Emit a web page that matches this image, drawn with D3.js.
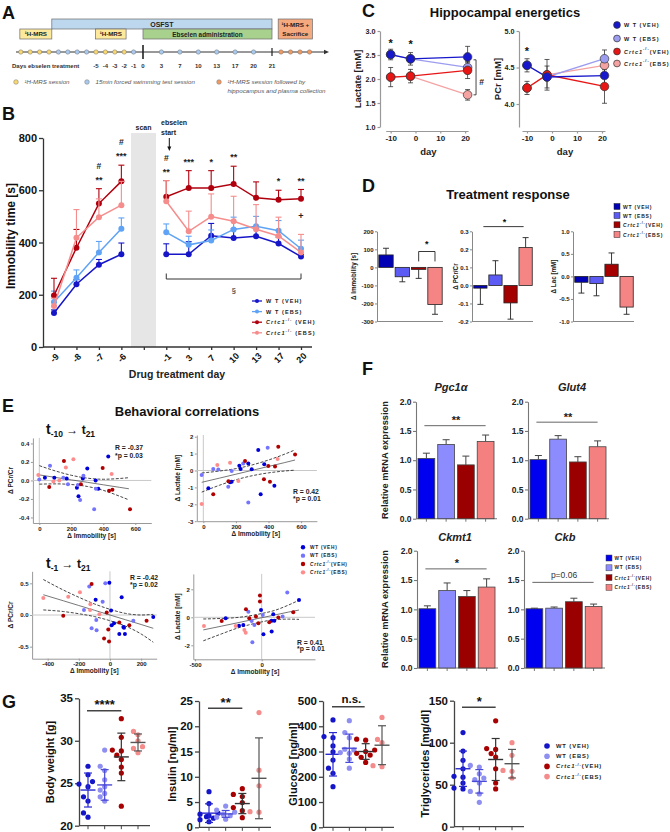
<!DOCTYPE html>
<html><head><meta charset="utf-8">
<script src="https://cdn.jsdelivr.net/npm/d3@7/dist/d3.min.js"></script>
<style>html,body{margin:0;padding:0;background:#fff}svg{display:block}</style>
</head><body>
<script>
const FONT = "'Liberation Sans', Arial, Helvetica, sans-serif";
// ===================== DATA =====================
const groupKeys = ["wtVeh","wtEbs","crVeh","crEbs"];
// A timeline schematic
const preDays  = [-13,-12,-11,-10,-9,-8,-7,-6,-5,-4,-3,-2,-1];
const preTypes = ["mrs","mrs","mrs","mrs","fst","fst","fst","fst","mrs","mrs","mrs","mrs","fst"];
const postDays = [0,3,7,10,13,17,20,21];
const postTypes= [null,"fst","fst","fst","fst","fst","fst",null];
const sacDots  = [1,2,3,4];
const preLabels = [-5,-4,-3,-2,-1];
// B immobility time
const bDays = ["-9","-8","-7","-6","","-1","3","7","10","13","17","20"];
const bWtVeh    = [130,240,315,355,null,355,355,426,417,424,396,346];
const bWtVehErr = [12,18,20,43,null,40,48,47,35,30,25,8];
const bWtEbs    = [172,265,362,453,null,439,391,408,450,462,445,376];
const bWtEbsErr = [42,30,42,41,null,32,33,40,47,38,39,33];
const bCrVeh    = [197,380,549,634,null,575,609,609,624,571,564,567];
const bCrVehErr = [66,70,57,62,null,62,66,66,68,61,36,36];
const bCrEbs    = [157,418,497,543,null,558,443,499,481,451,425,362];
const bCrEbsErr = [30,108,70,91,null,79,77,87,96,94,72,69];
const bSigIdx   = [2,3,5,6,7,8,10,11];
const bSigStar  = ["**","***","**","***","*","**","*","**"];
const bSigHash  = ["#","#","#","","","","",""];
// C hippocampal energetics
const cDays = [-10,-2,21];
const cLacWtVeh=[2.51,2.42,2.46], cLacWtVehErr=[0.11,0.13,0.22];
const cLacWtEbs=[2.51,2.42,2.24], cLacWtEbsErr=[0.11,0.13,0.12];
const cLacCrVeh=[2.04,2.06,2.18], cLacCrVehErr=[0.20,0.14,0.17];
const cLacCrEbs=[2.04,2.06,1.67], cLacCrEbsErr=[0.20,0.14,0.11];
const cPcrWtVeh=[4.53,4.37,4.39], cPcrWtVehErr=[0.09,0.15,0.14];
const cPcrWtEbs=[4.53,4.37,4.62], cPcrWtEbsErr=[0.09,0.15,0.12];
const cPcrCrVeh=[4.22,4.40,4.24], cPcrCrVehErr=[0.09,0.21,0.23];
const cPcrCrEbs=[4.22,4.40,4.53], cPcrCrEbsErr=[0.09,0.21,0.10];
// D treatment response
const dImm=[69,-52,-11,-206], dImmErr=[37,28,50,54];
const dPcr=[-0.015,0.058,-0.097,0.21], dPcrErr=[0.09,0.079,0.09,0.055];
const dLac=[-0.13,-0.16,0.27,-0.68], dLacErr=[0.24,0.27,0.25,0.16];
// E behavioral correlations  [Δimmobility, Δmetabolite]
const e1 = [
 [[431,0.26],[300,0.13],[35,0.03],[94,0.03],[171,0.02],[272,0.02],[352,0.0],[235,-0.08],[369,-0.09],[245,-0.17]],
 [[67,0.16],[0,0.01],[150,0.03],[276,0.05],[179,-0.04],[241,-0.05],[354,-0.09],[255,-0.21],[343,-0.31]],
 [[154,0.21],[396,0.135],[62,-0.07],[260,-0.04],[457,-0.10],[436,-0.11],[567,-0.31]],
 [[213,0.23],[166,0.14],[452,0.07],[-6,0.06],[88,-0.01],[125,0.0]]];
const e2 = [
 [[337,1.21],[31,-1.05],[164,-0.70],[174,-0.67],[221,0.28],[229,0.09],[276,0.42],[297,0.07],[352,-1.41],[374,0.37],[436,-0.90]],
 [[395,1.35],[-10,-0.27],[61,0.09],[92,0.06],[174,-0.03],[153,-0.96],[245,0.42],[276,-1.90]],
 [[460,1.41],[563,0.95],[61,-1.41],[154,-0.63],[256,0.56],[372,-0.52],[399,0.27],[409,-0.66],[440,0.23]],
 [[-10,-1.98],[86,0.33],[164,0.46],[215,-0.62],[456,0.68]]];
const e3 = [
 [[-4,0.51],[-92,0.24],[7,0.07],[11,-0.16],[26,-0.13],[60,-0.30],[75,0.28],[86,-0.19],[90,-0.20],[96,-0.30],[278,-0.03]],
 [[-30,0.50],[-167,0.08],[-133,0.45],[-118,-0.21],[-86,-0.24],[-88,-0.08],[-47,0.21],[150,-0.09]],
 [[-300,-0.01],[-118,0.49],[-21,0.04],[-38,-0.37],[-11,-0.23],[-6,-0.42],[60,-0.12],[124,-0.16],[235,-0.09]],
 [[-428,0.27],[-268,0.29],[-193,0.36],[-128,0.08],[-126,0.17],[-68,0.01]]];
const e4 = [
 [[-270,-0.07],[-170,-0.60],[-138,-0.55],[-5,0.52],[13,-1.21],[75,-0.24],[87,0.21],[75,-1.02],[95,-0.24],[280,1.24]],
 [[-100,0.40],[-75,-0.26],[-70,-1.79],[-55,-0.55],[8,0.17],[157,0.05],[192,1.78]],
 [[-300,-0.26],[-118,0.57],[-93,-0.07],[-43,0.05],[-25,-0.43],[-13,1.55],[-13,1.12],[57,-0.36],[125,-0.02],[237,0.36]],
 [[-433,-0.62],[-195,-0.62],[-130,-0.90],[-120,-1.10]]];
// regression lines
const e1FitX=[0,100,200,300,400,500,560];
const e1Fit=[0.06,0.033,0.006,-0.02,-0.047,-0.074,-0.09];
const e1Up =[0.16,0.103,0.056,0.025,0.013,0.021,0.03];
const e1Lo =[-0.04,-0.037,-0.044,-0.065,-0.107,-0.169,-0.21];
const e2FitX=[-10,100,200,300,400,500,563];
const e2Fit=[-0.70,-0.45,-0.22,0.01,0.24,0.47,0.62];
const e2Up =[-0.15,-0.03,0.11,0.33,0.62,0.97,1.22];
const e2Lo =[-1.28,-0.87,-0.55,-0.31,-0.14,-0.03,0.02];
const e3FitX=[-428,-300,-200,-100,0,100,200,278];
const e3Fit=[0.32,0.225,0.15,0.075,0.0,-0.075,-0.15,-0.21];
const e3Up =[0.56,0.395,0.28,0.175,0.09,0.025,0.0,0.01];
const e3Lo =[0.08,0.055,0.02,-0.025,-0.09,-0.175,-0.30,-0.43];
const e4FitX=[-438,-300,-200,-100,0,100,200,280];
const e4Fit=[-0.90,-0.63,-0.43,-0.23,-0.03,0.17,0.37,0.52];
const e4Up =[-0.12,-0.08,-0.03,0.09,0.27,0.50,0.87,1.22];
const e4Lo =[-1.68,-1.18,-0.83,-0.55,-0.33,-0.16,-0.13,-0.15];
// F mRNA expression
const fPgc=[1.03,1.27,0.92,1.32],  fPgcErr=[0.09,0.08,0.15,0.11];
const fGlut=[1.01,1.36,0.97,1.23], fGlutErr=[0.07,0.06,0.09,0.10];
const fCkmt=[1.01,1.32,1.22,1.38], fCkmtErr=[0.05,0.13,0.10,0.14];
const fCkb=[1.01,1.02,1.13,1.05],  fCkbErr=[0.01,0.02,0.06,0.04];
// G metabolic parameters
const gBw  = [[27.0,26.0,25.2,24.9,24.6,23.4,22.9,21.5,21.0],[28.9,27.0,26.5,25.4,24.6,24.2,23.8,23.4,22.9],[32.6,30.4,28.9,28.8,28.3,27.8,26.9,26.2,22.3],[31.1,30.7,30.0,29.3,29.1,28.6]];
const gBwMean=[24.2,24.8,28.1,29.8], gBwSd=[2.0,1.8,2.8,1.0];
const gIns = [[7.05,4.7,2.8,2.6,2.3,2.1,1.8,1.5,1.1],[4.2,3.4,3.0,2.6,2.3,2.0,1.6],[7.65,6.5,6.1,4.9,3.9,3.3,1.9],[22.7,11.3,8.2,3.1,3.0]];
const gInsMean=[2.8,2.65,4.7,9.7], gInsSd=[1.85,0.68,2.0,8.0];
const gGlu = [[425,359,355,322,299,266,234,214,161],[422,375,355,309,306,296,293,270,234],[349,345,306,300,293,286,277,257],[435,348,335,244,240]];
const gGluMean=[289,313,300,325], gGluSd=[86,56,31,77];
const gTg  = [[112,90,79,69,60,59,52,46,45],[73,71,63,58,56,52,42,39,29],[126,93,92,87,83,69,52,45],[100,85,67,66,58]];
const gTgMean=[69,54,80,75], gTgSd=[21,14,25,17];

// ===================== HELPERS =====================
const svg = d3.select("body").append("svg").attr("width",670).attr("height",832).attr("font-family",FONT);
const fmt1 = v => d3.format(".1f")(v).replace("\u2212","-");
const fmtD = v => d3.format("d")(v).replace("\u2212","-");
function T(x,y,s,o={}){
  const t = svg.append("text").attr("x",x).attr("y",y)
    .attr("font-size",o.fs||8).attr("font-weight",o.fw||"bold")
    .attr("fill",o.fill||"#111").attr("text-anchor",o.a||"start");
  if(o.it) t.attr("font-style","italic");
  if(o.ls!==undefined) t.attr("letter-spacing",o.ls);
  if(o.db) t.attr("dominant-baseline",o.db);
  if(o.rot) t.attr("transform",`rotate(${o.rot},${x},${y})`);
  if(s!==null && s!==undefined) t.text(s);
  return t;
}
function L(x1,y1,x2,y2,st="#333",w=1,dash){
  const l = svg.append("line").attr("x1",x1).attr("y1",y1).attr("x2",x2).attr("y2",y2)
    .attr("stroke",st).attr("stroke-width",w);
  if(dash) l.attr("stroke-dasharray",dash);
  return l;
}
function styleAxis(g,o){
  g.attr("font-family",FONT).attr("font-size",o.fs||8);
  g.select(".domain").attr("stroke",o.stroke||"#444").attr("stroke-width",o.sw||1);
  g.selectAll(".tick line").attr("stroke",o.stroke||"#444").attr("stroke-width",o.sw||1);
  g.selectAll(".tick text").attr("font-weight","bold").attr("fill",o.tc||"#111");
  if(o.noDomain) g.select(".domain").remove();
}
function yAxis(scale,x,ticks,fmt,o={}){
  const g = svg.append("g").attr("transform",`translate(${x},0)`)
    .call(d3.axisLeft(scale).tickValues(ticks).tickFormat(fmt).tickSizeOuter(0)
      .tickSizeInner(o.ts??3).tickPadding(o.tp??2));
  styleAxis(g,o); return g;
}
function xAxis(scale,y,ticks,fmt,o={}){
  const a = d3.axisBottom(scale).tickFormat(fmt).tickSizeOuter(0).tickSizeInner(o.ts??3).tickPadding(o.tp??2);
  if(ticks) a.tickValues(ticks);
  const g = svg.append("g").attr("transform",`translate(0,${y})`).call(a);
  styleAxis(g,o); return g;
}
function legLabel(x,y,i,o){
  const t = T(x,y,null,{fs:o.fs,ls:o.ls,db:"central",fill:o.fill||"#222"});
  if(i<2){ t.text(i===0?o.wt0:o.wt1); }
  else {
    t.append("tspan").attr("font-style","italic").text("Crtc1");
    t.append("tspan").attr("font-size",o.fs*0.7).attr("dy",-o.fs*0.4).text("-/-");
    t.append("tspan").attr("dy",o.fs*0.4).text((o.gap||"")+(i===2?"(VEH)":"(EBS)"));
  }
}

// ===================== PANEL LABELS =====================
T(2,19,"A",{fs:18}); T(2,120,"B",{fs:18}); T(362,17,"C",{fs:18}); T(362,192,"D",{fs:18});
T(2,412,"E",{fs:18}); T(362,375,"F",{fs:18}); T(2,708,"G",{fs:18});

// ===================== A =====================
const tPre  = d3.scaleLinear().domain([-13,0]).range([20.8,143]);
const tPost = d3.scalePoint().domain(postDays).range([143,272]);
const tSac  = d3.scaleLinear().domain([0,4]).range([272,310]);
const aCol = {mrs:"#f9d86f", fst:"#a9c9ee", sac:"#f39a62"};
function box(x0,x1,y,h,fill){ svg.append("rect").attr("x",x0).attr("y",y).attr("width",x1-x0).attr("height",h)
  .attr("fill",fill).attr("stroke","#6a6a6a").attr("stroke-width",0.7); }
box(tPre(-9.7),tPost(21),19,10,"#bdd7ee");
box(tPre(-13.1),tPre(-9.7),29,10,"#fde99c");
box(tPre(-5.05),tPre(-1.8),29,10,"#fde99c");
box(tPre(0),tPost(21),29,10,"#a9d18e");
box(tSac(0.65),tSac(4.25),19,20,"#f5a97f");
T((tPre(-9.7)+tPost(21))/2,26.6,"OSFST",{fs:7,a:"middle",fill:"#222"});
T((tPre(-13.1)+tPre(-9.7))/2,36.4,"¹H-MRS",{fs:6.2,a:"middle",fill:"#222"});
T((tPre(-5.05)+tPre(-1.8))/2,36.4,"¹H-MRS",{fs:6.2,a:"middle",fill:"#222"});
T((tPre(0)+tPost(21))/2,36.6,"Ebselen administration",{fs:6.4,a:"middle",fill:"#222"});
T((tSac(0.65)+tSac(4.25))/2,27,"¹H-MRS +",{fs:6.2,a:"middle",fill:"#222"});
T((tSac(0.65)+tSac(4.25))/2,35.8,"Sacrifice",{fs:6.2,a:"middle",fill:"#222"});
L(16,52,324,52,"#333",1);
svg.append("path").attr("d","M324,49.8 L329,52 L324,54.2 Z").attr("fill","#333");
L(tPost(0),45,tPost(0),59,"#222",1.6);
L(tPost(21),48,tPost(21),56,"#222",1.2);
function aDot(x,type){ svg.append("circle").attr("cx",x).attr("cy",52).attr("r",2.2)
  .attr("fill",aCol[type]).attr("stroke","#777").attr("stroke-width",0.5); }
preDays.forEach((d,i)=>aDot(tPre(d),preTypes[i]));
postDays.forEach((d,i)=>{ if(postTypes[i]) aDot(tPost(d),postTypes[i]); });
sacDots.forEach(k=>aDot(tSac(k)-0.5,"sac"));
T(12,68,"Days ebselen treatment",{fs:6,fill:"#333"});
preLabels.forEach(d=>T(tPre(d),68,String(d),{fs:6,a:"middle",fill:"#333"}));
postDays.forEach(d=>T(tPost(d),68,String(d),{fs:6,a:"middle",fill:"#333"}));
function aLeg(x,type,lines){
  svg.append("circle").attr("cx",x).attr("cy",82).attr("r",2.3).attr("fill",aCol[type]).attr("stroke","#777").attr("stroke-width",0.5);
  lines.forEach((s,j)=>T(x+8.5,84.2+j*8.6,s,{fs:6.2,fw:"normal",it:true,fill:"#555"}));
}
aLeg(16,"mrs",["¹H-MRS session"]);
aLeg(87,"fst",["15min forced swimming test session"]);
aLeg(219,"sac",["¹H-MRS session followed by","hippocampus and plasma collection"]);

// ===================== B =====================
const bx = d3.scalePoint().domain(d3.range(bDays.length)).range([54,301]);
const by = d3.scaleLinear().domain([0,800]).range([347,138]);
svg.append("rect").attr("x",131).attr("y",133).attr("width",25).attr("height",214).attr("fill","#e6e6e6");
yAxis(by,43,[0,200,400,600,800],fmtD,{fs:11,ts:4,tp:2,stroke:"#333",sw:1.3});
const bxg = xAxis(bx,347,null,i=>bDays[i],{fs:9,ts:3,stroke:"#333",sw:1.3,noDomain:true});
bxg.selectAll(".tick text").attr("y",0).attr("dy",null).attr("dominant-baseline","central")
  .attr("text-anchor","middle").attr("transform","translate(0,11) rotate(-45)");
L(43,347,312,347,"#333",1.3);
T(15,236,"Immobility time [s]",{fs:12,a:"middle",rot:-90});
T(177,378,"Drug treatment day",{fs:10.5,a:"middle",fill:"#222"});
T(143.5,129.5,"scan",{fs:7,a:"middle",fill:"#222"});
T(161,125,"ebselen",{fs:7,fill:"#222"}); T(161,134.5,"start",{fs:7,fill:"#222"});
L(169.3,138,169.3,148,"#111",1);
svg.append("path").attr("d","M167.3,146.5 L169.3,151 L171.3,146.5 Z").attr("fill","#111");
const bSeries=[{v:bWtVeh,e:bWtVehErr,c:"#1616c8"},{v:bWtEbs,e:bWtEbsErr,c:"#5ea3f5"},
               {v:bCrVeh,e:bCrVehErr,c:"#b0000e"},{v:bCrEbs,e:bCrEbsErr,c:"#f58d8d"}];
bSeries.forEach(s=>{
  s.v.forEach((v,i)=>{ if(v==null) return;
    L(bx(i),by(v),bx(i),by(v+s.e[i]),s.c,1.1); L(bx(i)-3,by(v+s.e[i]),bx(i)+3,by(v+s.e[i]),s.c,1.1); });
  const ln = d3.line().defined(d=>d!=null).x((d,i)=>bx(i)).y(d=>by(d));
  svg.append("path").attr("d",ln(s.v)).attr("fill","none").attr("stroke",s.c).attr("stroke-width",1.5);
  s.v.forEach((v,i)=>{ if(v==null) return;
    svg.append("circle").attr("cx",bx(i)).attr("cy",by(v)).attr("r",3).attr("fill",s.c); });
});
bSigIdx.forEach((i,k)=>{
  const top = by(d3.max(bSeries,s=>s.v[i]+s.e[i]));
  T(bx(i),top-11+5.2,bSigStar[k],{fs:9,a:"middle",fill:"#222"});
  if(bSigHash[k]) T(bx(i),top-23+3.2,bSigHash[k],{fs:8.5,a:"middle",fill:"#222"});
});
T(bx(11),by(bCrEbs[11]+bCrEbsErr[11])-18+3,"+",{fs:9,a:"middle",fill:"#222"});
L(bx(5),279,bx(11),279,"#333",1); L(bx(5),279,bx(5),273.5,"#333",1); L(bx(11),279,bx(11),273.5,"#333",1);
T((bx(5)+bx(11))/2,293,"§",{fs:8,fw:"normal",a:"middle",fill:"#222"});
bSeries.forEach((s,i)=>{
  const y=301+i*10.6;
  L(252,y,262,y,s.c,1.3);
  svg.append("circle").attr("cx",257).attr("cy",y).attr("r",2).attr("fill",s.c);
  legLabel(266,y,i,{fs:5.5,ls:1.1,wt0:"W T  (VEH)",wt1:"W T (EBS)",gap:" "});
});

// ===================== C =====================
T(505,17,"Hippocampal energetics",{fs:13,a:"middle"});
const cCols=["#1717cc","#9c9cf0","#e81515","#f5a2a2"];
function cPanel(xs,ys,yTicks,series,axisX,ylabel,ylx){
  yAxis(ys,axisX,yTicks,fmt1,{fs:7.2,ts:2.5,stroke:"#999",sw:1.2,tc:"#222"});
  xAxis(xs,131,[-10,0,10,20],fmtD,{fs:8,ts:2.5,tp:2,stroke:"#999",sw:1.2,tc:"#222"});
  T((xs(-10)+xs(20))/2+0.5,155,"day",{fs:9.5,a:"middle",fill:"#222"});
  T(ylx,ys.range().reduce((a,b)=>a+b)/2,ylabel,{fs:9.5,a:"middle",rot:-90,fill:"#222"});
  const order=[3,1,2,0];
  order.forEach(k=>{
    const s=series[k];
    s.v.forEach((v,i)=>{ if(k%2===1 && i<2) return;
      const x=xs(cDays[i]);
      L(x,ys(v-s.e[i]),x,ys(v+s.e[i]),"#333",0.8);
      L(x-2.5,ys(v-s.e[i]),x+2.5,ys(v-s.e[i]),"#333",0.8);
      L(x-2.5,ys(v+s.e[i]),x+2.5,ys(v+s.e[i]),"#333",0.8);
    });
  });
  order.forEach(k=>{
    const s=series[k];
    const ln=d3.line().x((d,i)=>xs(cDays[i])).y(d=>ys(d));
    svg.append("path").attr("d",ln(s.v)).attr("fill","none").attr("stroke",cCols[k]).attr("stroke-width",1.3);
  });
  order.forEach(k=>{
    const s=series[k];
    s.v.forEach((v,i)=>svg.append("circle").attr("cx",xs(cDays[i])).attr("cy",ys(v)).attr("r",4.3)
      .attr("fill",cCols[k]).attr("stroke","#333").attr("stroke-width",0.7));
  });
}
const cxL=d3.scaleLinear().domain([-12,21.2]).range([385.7,468.1]);
const cyL=d3.scaleLinear().domain([1,3]).range([127,31]);
cPanel(cxL,cyL,[1,1.5,2,2.5,3],[{v:cLacWtVeh,e:cLacWtVehErr},{v:cLacWtEbs,e:cLacWtEbsErr},{v:cLacCrVeh,e:cLacCrVehErr},{v:cLacCrEbs,e:cLacCrEbsErr}],380,"Lactate [mM]",361);
T(cxL(-10),47,"*",{fs:11,a:"middle"}); T(cxL(-2),48,"*",{fs:11,a:"middle"});
const bxC=cxL(24.4);
L(bxC,cyL(2.40),bxC,cyL(1.67),"#333",0.9); L(bxC-2.5,cyL(2.40),bxC,cyL(2.40),"#333",0.9); L(bxC-2.5,cyL(1.67),bxC,cyL(1.67),"#333",0.9);
T(bxC+5.5,85,"#",{fs:8.5,a:"middle",fill:"#222"});
const cxR=d3.scaleLinear().domain([-12,21.2]).range([522,605]);
const cyR=d3.scaleLinear().domain([3.685,5]).range([127,31]);
cPanel(cxR,cyR,[4,4.5,5],[{v:cPcrWtVeh,e:cPcrWtVehErr},{v:cPcrWtEbs,e:cPcrWtEbsErr},{v:cPcrCrVeh,e:cPcrCrVehErr},{v:cPcrCrEbs,e:cPcrCrEbsErr}],519,"PCr [mM]",501);
T(cxR(-10),55,"*",{fs:11,a:"middle"});
cCols.forEach((c,i)=>{
  const y=[25,38.5,51.5,63.5][i];
  svg.append("circle").attr("cx",617).attr("cy",y).attr("r",3.4).attr("fill",c).attr("stroke","#333").attr("stroke-width",0.7);
  legLabel(624,y,i,{fs:5.5,ls:1,wt0:"W T (VEH)",wt1:"W T (EBS)"});
});

// ===================== D =====================
T(508,199,"Treatment response",{fs:13,a:"middle"});
const dCols=["#0000b4","#5c5cf5","#a50000","#f58585"];
const dPanels=[
 {vals:dImm,errs:dImmErr,dom:[-300,200],ticks:[-300,-200,-100,0,100,200],fmt:fmtD,ax:377,x1:443,label:"Δ Immobility [s]",lx:356},
 {vals:dPcr,errs:dPcrErr,dom:[-0.2,0.3],ticks:[-0.2,-0.1,0,0.1,0.2,0.3],fmt:fmt1,ax:472,x1:533,label:"Δ  PCr/Cr",lx:458},
 {vals:dLac,errs:dLacErr,dom:[-1,1],ticks:[-1,-0.5,0,0.5,1],fmt:fmt1,ax:573,x1:634,label:"Δ  Lac [mM]",lx:556}];
dPanels.forEach(p=>{
  p.ys=d3.scaleLinear().domain(p.dom).range([321.5,231.3]);
  p.xs=d3.scaleBand().domain(groupKeys).range([p.ax+1,p.x1]).paddingInner(0.12).paddingOuter(0.05);
  yAxis(p.ys,p.ax,p.ticks,p.fmt,{fs:6,ts:2,tp:1.5,stroke:"#888",sw:1,tc:"#222"});
  L(p.ax,321.5,p.x1,321.5,"#888",1);
  T(p.lx,276.5,p.label,{fs:6.3,a:"middle",rot:-90,fill:"#222"});
  p.vals.forEach((v,i)=>{
    const x=p.xs(groupKeys[i]), w=p.xs.bandwidth(), cx=x+w/2;
    const ve = v>=0 ? v+p.errs[i] : v-p.errs[i];
    L(cx,p.ys(v),cx,p.ys(ve),"#222",0.9); L(cx-3,p.ys(ve),cx+3,p.ys(ve),"#222",0.9);
    svg.append("rect").attr("x",x).attr("width",w).attr("y",Math.min(p.ys(v),p.ys(0)))
      .attr("height",Math.abs(p.ys(v)-p.ys(0))).attr("fill",dCols[i]).attr("stroke","#222").attr("stroke-width",0.8);
  });
});
{ const p=dPanels[0], c3=p.xs(groupKeys[2])+p.xs.bandwidth()/2, c4=p.xs(groupKeys[3])+p.xs.bandwidth()/2;
  const yt=p.ys(88), yb=p.ys(33);
  L(c3,yt,c4,yt,"#222",0.9); L(c3,yt,c3,yb,"#222",0.9); L(c4,yt,c4,yb,"#222",0.9);
  T((c3+c4)/2,yt-5,"*",{fs:9,a:"middle"}); }
{ const p=dPanels[1], c1=p.xs(groupKeys[0])+p.xs.bandwidth()/2+5, c4=p.xs(groupKeys[3])+p.xs.bandwidth()/2-2;
  const yt=p.ys(0.326);
  L(c1-2,yt,c4,yt,"#222",0.9); T((c1+c4)/2,yt-1.5,"*",{fs:9,a:"middle"}); }
dCols.forEach((c,i)=>{
  const y=[206.5,215.5,224.8,234.5][i];
  svg.append("rect").attr("x",614).attr("y",y-3).attr("width",6).attr("height",6).attr("fill",c).attr("stroke","#222").attr("stroke-width",0.5);
  legLabel(623,y,i,{fs:5,ls:0.8,wt0:"WT (VEH)",wt1:"WT (EBS)"});
});

// ===================== E =====================
T(187,416,"Behavioral correlations",{fs:13,a:"middle"});
function tSub(x,y,a,b){
  const t=T(x,y,null,{fs:14});
  t.append("tspan").text("t");
  t.append("tspan").attr("font-size",8.5).attr("dy",3).text(a);
  t.append("tspan").attr("font-size",12).attr("dy",-3).text(" → t");
  t.append("tspan").attr("font-size",8.5).attr("dy",3).text(b);
}
tSub(46,434,"-10","21"); tSub(46,568,"-1","21");
const eCols=["#0000d8","#7474ff","#b00000","#ff8c8c"];
function ePanel(o){
  const xs=d3.scaleLinear().domain(o.xd).range(o.xr), ys=d3.scaleLinear().domain(o.yd).range(o.yr);
  yAxis(ys,o.xr[0],o.yt,o.yf,{fs:6,ts:2,tp:1.5,stroke:"#999",sw:1,tc:"#222"});
  xAxis(xs,o.yr[0],o.xt,fmtD,{fs:6,ts:2,tp:1.5,stroke:"#999",sw:1,tc:"#222"});
  L(o.xr[0],ys(0),o.xr[1],ys(0),"#c8c8c8",1);
  L(xs(0),o.yr[0],xs(0),o.yr[1],"#c8c8c8",1);
  T((o.xr[0]+o.xr[1])/2+o.xlOff,o.yr[0]+14.5,"Δ Immobility [s]",{fs:6.5,a:"middle",fill:"#222"});
  T(o.ylx,(o.yr[0]+o.yr[1])/2,o.yl,{fs:6.5,a:"middle",rot:-90,fill:"#222"});
  const mk=arr=>d3.line().x((d,i)=>xs(o.fx[i])).y(d=>ys(d)).curve(d3.curveMonotoneX)(arr);
  svg.append("path").attr("d",mk(o.up)).attr("fill","none").attr("stroke","#333").attr("stroke-width",0.9).attr("stroke-dasharray","3,1.6");
  svg.append("path").attr("d",mk(o.lo)).attr("fill","none").attr("stroke","#333").attr("stroke-width",0.9).attr("stroke-dasharray","3,1.6");
  svg.append("path").attr("d",mk(o.fit)).attr("fill","none").attr("stroke","#555").attr("stroke-width",0.8);
  o.pts.forEach((g,k)=>g.forEach(p=>svg.append("circle").attr("cx",xs(p[0])).attr("cy",ys(p[1])).attr("r",2).attr("fill",eCols[k])));
  T(o.rx,o.ry,o.rtxt,{fs:6.8,fill:"#222"}); T(o.rx,o.ry+o.pdy,o.ptxt,{fs:6.8,fill:"#222"});
}
ePanel({xd:[-40,700],xr:[32.9,151.3],yd:[-0.46,0.46],yr:[523,437.9],yt:[-0.4,-0.2,0,0.2,0.4],yf:fmt1,xt:[0,200,400,600],
  yl:"Δ  PCr/Cr",ylx:13,xlOff:-0.5,pts:e1,fx:e1FitX,fit:e1Fit,up:e1Up,lo:e1Lo,rx:115,ry:450,rtxt:"R = -0.37",pdy:8,ptxt:"*p = 0.03"});
ePanel({xd:[-40,697],xr:[196.8,316.9],yd:[-3,2.1],yr:[521.2,435],yt:[-3,-2,-1,0,1,2],yf:fmtD,xt:[0,200,400,600],
  yl:"Δ  Lactate [mM]",ylx:180,xlOff:-1,pts:e2,fx:e2FitX,fit:e2Fit,up:e2Up,lo:e2Lo,rx:293,ry:494,rtxt:"R = 0.42",pdy:7,ptxt:"*p = 0.01"});
ePanel({xd:[-500,300],xr:[32.1,156.7],yd:[-0.69,0.69],yr:[658.7,571.3],yt:[-0.5,0,0.5],yf:fmt1,xt:[-400,-200,0,200],
  yl:"Δ  PCr/Cr",ylx:13,xlOff:0,pts:e3,fx:e3FitX,fit:e3Fit,up:e3Up,lo:e3Lo,rx:130,ry:579.5,rtxt:"R = -0.42",pdy:7,ptxt:"*p = 0.02"});
ePanel({xd:[-513,400],xr:[193.3,315],yd:[-3,3.1],yr:[659.3,573.9],yt:[-2,0,2],yf:fmtD,xt:[-500,0],
  yl:"Δ  Lactate [mM]",ylx:180,xlOff:1,pts:e4,fx:e4FitX,fit:e4Fit,up:e4Up,lo:e4Lo,rx:297,ry:644.5,rtxt:"R = 0.41",pdy:6.5,ptxt:"*p = 0.01"});
eCols.forEach((c,i)=>{
  const y=547.3+i*8.35;
  svg.append("circle").attr("cx",303).attr("cy",y).attr("r",2.2).attr("fill",c);
  legLabel(310,y,i,{fs:4.8,ls:0.7,wt0:"WT (VEH)",wt1:"WT (EBS)"});
});

// ===================== F =====================
const fCols=["#0000f0","#8c8cff","#9a0000","#f58080"];
const fTopY=d3.scaleLinear().domain([0,2]).range([518.7,401.7]);
const fBotY=d3.scaleLinear().domain([0,2]).range([668,550.7]);
const fPanels=[
 {vals:fPgc,errs:fPgcErr,ax:416,ys:fTopY,title:"Pgc1α",tx:451,ty:391,sig:"**",sigV:1.59},
 {vals:fGlut,errs:fGlutErr,ax:528,ys:fTopY,title:"Glut4",tx:572,ty:391,sig:"**",sigV:1.65},
 {vals:fCkmt,errs:fCkmtErr,ax:417,ys:fBotY,title:"Ckmt1",tx:455,ty:541,sig:"*",sigV:1.69},
 {vals:fCkb,errs:fCkbErr,ax:524,ys:fBotY,title:"Ckb",tx:565,ty:541,sig:"p=0.06",sigV:1.46}];
fPanels.forEach(p=>{
  const xs=d3.scaleBand().domain(groupKeys).range([p.ax+1,p.ax+79]).paddingInner(0.15).paddingOuter(0.05);
  yAxis(p.ys,p.ax,[0,0.5,1,1.5,2],fmt1,{fs:8.5,ts:3,tp:1.5,stroke:"#777",sw:1.1,tc:"#222"});
  const y0=p.ys(0);
  L(p.ax,y0,p.ax+81,y0,"#777",1.1);
  T(p.tx,p.ty,p.title,{fs:11,a:"middle",it:true,fill:"#222"});
  p.vals.forEach((v,i)=>{
    const x=xs(groupKeys[i]), w=xs.bandwidth(), cx=x+w/2;
    L(cx,y0,cx,y0+3,"#777",1);
    L(cx,p.ys(v),cx,p.ys(v+p.errs[i]),"#444",1); L(cx-3.5,p.ys(v+p.errs[i]),cx+3.5,p.ys(v+p.errs[i]),"#444",1);
    svg.append("rect").attr("x",x).attr("width",w).attr("y",p.ys(v)).attr("height",y0-p.ys(v))
      .attr("fill",fCols[i]).attr("stroke","#444").attr("stroke-width",0.8);
  });
  const c1=xs(groupKeys[0])+xs.bandwidth()/2, c4=xs(groupKeys[3])+xs.bandwidth()/2, ly=p.ys(p.sigV);
  L(c1-2,ly,c4,ly,"#555",0.9);
  if(p.sig.startsWith("p")) T((c1+c4)/2,ly-4,p.sig,{fs:8.5,fw:"normal",a:"middle",fill:"#333"});
  else T((c1+c4)/2,ly-1.5,p.sig,{fs:11,a:"middle",fill:"#222"});
});
T(388,460,"Relative mRNA expression",{fs:9.3,a:"middle",rot:-90,fill:"#222"});
T(388,609,"Relative mRNA expression",{fs:9.3,a:"middle",rot:-90,fill:"#222"});
fCols.forEach((c,i)=>{
  const y=558+i*9.8;
  svg.append("rect").attr("x",606).attr("y",y-3).attr("width",6).attr("height",6).attr("fill",c).attr("stroke","#444").attr("stroke-width",0.5);
  legLabel(614.5,y,i,{fs:4.8,ls:0.7,wt0:"WT (VEH)",wt1:"WT (EBS)"});
});

// ===================== G =====================
const gCols=["#1414c8","#8f8ff2","#a80000","#f58c8c"];
const gBarCols=["#2a2ad0","#4a4ad8","#333","#555"];
function swarm(vals,ys,cx,r){
  const idx=d3.range(vals.length).sort((a,b)=>vals[a]-vals[b]);
  const placed=[], out=new Array(vals.length), cands=[0,-4.5,4.5,-9,9,-2.5,2.5,-6.5,6.5];
  idx.forEach(i=>{
    const y=ys(vals[i]); let off=0;
    for(const c of cands){ if(placed.every(p=>Math.hypot(p.x-(cx+c),p.y-y)>=2*r+0.3)){off=c;break;} }
    out[i]={x:cx+off,y}; placed.push(out[i]);
  });
  return out;
}
const gPanels=[
 {pts:gBw,mean:gBwMean,sd:gBwSd,ax:79,c:[88,138],dom:[20,35],rng:[825.7,698.3],ticks:[20,25,30,35],label:"Body weight [g]",lx:54,sig:"****",sigY:710.7},
 {pts:gIns,mean:gInsMean,sd:gInsSd,ax:199,c:[209,259],dom:[0,25],rng:[827.3,701],ticks:[0,5,10,15,20,25],label:"Insulin [ng/ml]",lx:176,sig:"**",sigY:708.3},
 {pts:gGlu,mean:gGluMean,sd:gGluSd,ax:323,c:[333,382],dom:[0,500],rng:[827.3,701],ticks:[0,100,200,300,400,500],label:"Glucose [ng/ml]",lx:297,sig:"n.s.",sigY:706.7},
 {pts:gTg,mean:gTgMean,sd:gTgSd,ax:454,c:[463,512],dom:[0,150],rng:[826.7,700.7],ticks:[0,50,100,150],label:"Triglycerides [mg/dl]",lx:429,sig:"*",sigY:707.3}];
gPanels.forEach(p=>{
  const ys=d3.scaleLinear().domain(p.dom).range(p.rng);
  const xs=d3.scalePoint().domain(groupKeys).range(p.c);
  yAxis(ys,p.ax,p.ticks,fmtD,{fs:11.5,ts:4,tp:2,stroke:"#444",sw:1.3,tc:"#111"});
  L(p.ax,p.rng[0],p.c[1]+12,p.rng[0],"#444",1.3);
  groupKeys.forEach(k=>L(xs(k),p.rng[0],xs(k),p.rng[0]+3.5,"#444",1));
  T(p.lx,(p.rng[0]+p.rng[1])/2,p.label,{fs:11,a:"middle",rot:-90});
  L(xs(groupKeys[0])-1,p.sigY,xs(groupKeys[2])+(p.sig==="n.s."?-1:0),p.sigY,"#444",1.6);
  const sx=(xs(groupKeys[0])+xs(groupKeys[2]))/2;
  if(p.sig==="n.s.") T(sx+2,p.sigY-4,p.sig,{fs:11.5,a:"middle"});
  else T(sx,p.sigY-1.5,p.sig,{fs:13,a:"middle"});
  groupKeys.forEach((k,i)=>{
    const cx=xs(k);
    swarm(p.pts[i],ys,cx,2.6).forEach(q=>svg.append("circle").attr("cx",q.x).attr("cy",q.y).attr("r",2.6).attr("fill",gCols[i]));
    const m=p.mean[i], s=p.sd[i], col=gBarCols[i];
    const lo=Math.max(p.dom[0],m-s);
    L(cx,ys(m+s),cx,ys(lo),col,1.2);
    L(cx-4,ys(m+s),cx+4,ys(m+s),col,1.2); L(cx-4,ys(lo),cx+4,ys(lo),col,1.2);
    L(cx-7.5,ys(m),cx+7.5,ys(m),col,1.4);
  });
});
gCols.forEach((c,i)=>{
  const y=746+i*10.2;
  svg.append("circle").attr("cx",547).attr("cy",y).attr("r",2.8).attr("fill",c);
  legLabel(556,y,i,{fs:5.8,ls:0.9,wt0:"WT (VEH)",wt1:"WT (EBS)"});
});
</script>
</body></html>
